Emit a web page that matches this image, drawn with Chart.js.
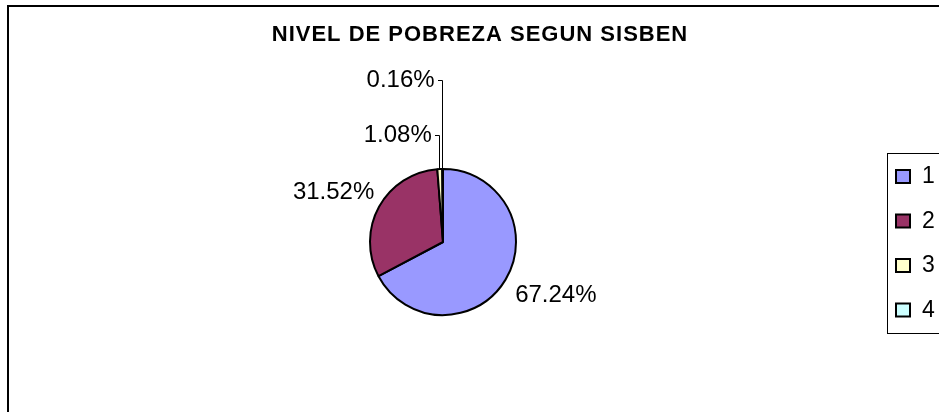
<!DOCTYPE html>
<html>
<head>
<meta charset="utf-8">
<script src="https://cdn.jsdelivr.net/npm/chart.js@4/dist/chart.umd.min.js"></script>
<style>
  html, body { margin: 0; padding: 0; background: #fff; overflow: hidden; }
  #wrap { position: relative; width: 939px; height: 412px; }
</style>
</head>
<body>
<div id="wrap"><canvas id="chart" width="939" height="412"></canvas></div>
<script>
// sisben levels and their share of people (percent)
const categories = ['1', '2', '3', '4'];
const shares = [67.24, 31.52, 1.08, 0.16];
const sliceColors = ['#9999FF', '#993366', '#FFFFCC', '#CCFFFF'];
const chartTitle = 'NIVEL DE POBREZA SEGUN SISBEN';

const FONT = 'Arial, "Liberation Sans", sans-serif';

// excel-ish extras: frame, title, outside labels with leaders, boxed legend
const excelLook = {
  id: 'excelLook',
  beforeDraw(chart) {
    const ctx = chart.ctx;
    ctx.save();
    ctx.fillStyle = '#fff';
    ctx.fillRect(0, 0, chart.width, chart.height);
    ctx.strokeStyle = '#000';
    ctx.lineWidth = 2;
    ctx.strokeRect(8, 6, 2000, 2000);
    ctx.restore();
  },
  afterDraw(chart) {
    const ctx = chart.ctx;
    const ds = chart.data.datasets[0];
    const total = ds.data.reduce((a, b) => a + b, 0);
    ctx.save();

    // title
    ctx.fillStyle = '#000';
    ctx.font = 'bold 22px ' + FONT;
    ctx.textAlign = 'center';
    ctx.textBaseline = 'middle';
    if ('letterSpacing' in ctx) ctx.letterSpacing = '1px';
    ctx.fillText(chartTitle, 480, 35);
    if ('letterSpacing' in ctx) ctx.letterSpacing = '0px';

    // data labels
    ctx.font = '24px ' + FONT;
    const meta = chart.getDatasetMeta(0);
    let stack = 0;
    meta.data.forEach((arc, i) => {
      const p = arc.getProps(['x', 'y', 'startAngle', 'endAngle', 'outerRadius'], true);
      const mid = (p.startAngle + p.endAngle) / 2;
      const dx = Math.cos(mid), dy = Math.sin(mid);
      const pct = ds.data[i] / total * 100;
      const text = pct.toFixed(2) + '%';
      const w = ctx.measureText(text).width, h = 24;
      if (pct < 2) {
        // tiny slice: stack label above and draw a leader line
        const ex = p.x + dx * p.outerRadius;
        const ey = p.y + dy * p.outerRadius;
        const ly = p.y - p.outerRadius - 34 - stack * 55;
        ctx.strokeStyle = '#000';
        ctx.lineWidth = 1;
        ctx.beginPath();
        ctx.moveTo(Math.round(ex) - 0.5, ey);
        ctx.lineTo(Math.round(ex) - 0.5, Math.round(ly) + 0.5);
        ctx.lineTo(Math.round(ex) - 5, Math.round(ly) + 0.5);
        ctx.stroke();
        ctx.textAlign = 'right';
        ctx.fillText(text, ex - 8, ly);
        stack++;
      } else {
        const g = p.outerRadius + 18;
        const cx = p.x + dx * g + dx * w / 2 + (dx < 0 ? 6 : 0);
        const cy = p.y + dy * g + dy * h / 2;
        ctx.textAlign = 'center';
        ctx.fillText(text, cx, cy);
      }
    });

    // legend
    const left = chart.chartArea.right + 1;
    ctx.strokeStyle = '#000';
    ctx.lineWidth = 1;
    ctx.strokeRect(left + 0.5, 153.5, 200, 180);
    ctx.font = '23px ' + FONT;
    ctx.textAlign = 'left';
    chart.data.labels.forEach((lab, i) => {
      const cy = 176 + i * 44.5;
      ctx.fillStyle = ds.backgroundColor[i];
      ctx.fillRect(left + 9, cy - 6, 14, 13);
      ctx.lineWidth = 2;
      ctx.strokeRect(left + 9, cy - 6, 14, 13);
      ctx.fillStyle = '#000';
      ctx.fillText(lab, left + 35, cy + 1);
    });

    ctx.restore();
  }
};

new Chart(document.getElementById('chart'), {
  type: 'pie',
  data: {
    labels: categories,
    datasets: [{
      data: shares,
      backgroundColor: sliceColors,
      borderColor: '#000',
      borderWidth: 2,
      hoverBorderWidth: 2
    }]
  },
  options: {
    responsive: false,
    animation: false,
    layout: { padding: { left: 0, right: 53, top: 168, bottom: 96 } },
    plugins: {
      legend: { display: false },
      title: { display: false },
      tooltip: { enabled: false }
    }
  },
  plugins: [excelLook]
});
</script>
</body>
</html>
